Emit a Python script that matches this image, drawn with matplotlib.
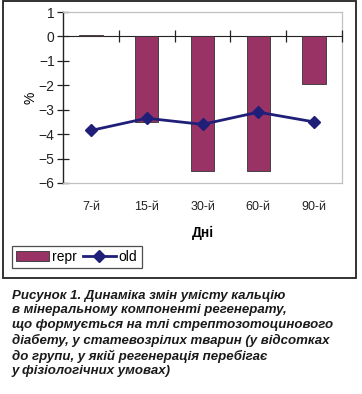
import matplotlib
matplotlib.use("Agg")
import matplotlib.pyplot as plt
from matplotlib.patches import Rectangle
import numpy as np

categories = ["7-й", "15-й", "30-й", "60-й", "90-й"]
repr_values = [0.04, -3.5, -5.5, -5.5, -1.93]
old_values = [-3.85, -3.35, -3.6, -3.1, -3.5]
y_ticks = [1, 0, -1, -2, -3, -4, -5, -6]

W, H = 362, 394
fig = plt.figure(figsize=(W / 100, H / 100), dpi=100)
plt.rcParams['font.family'] = ['Liberation Sans', 'DejaVu Sans']

def fx(px):
    return px / W

def fy(py):
    return 1 - py / H

# outer chart border
fig.patches.append(Rectangle((fx(3), fy(278)), fx(356) - fx(3), fy(1) - fy(278),
                             transform=fig.transFigure, fill=False,
                             edgecolor='#222222', linewidth=1.3))

ax = fig.add_axes([fx(63), fy(183), fx(342) - fx(63), fy(12) - fy(183)])
x = np.arange(len(categories))
bars = ax.bar(x, repr_values, width=0.42, color='#993366', edgecolor='#333333',
              linewidth=0.6, label='repr', zorder=4)
line, = ax.plot(x, old_values, color='#1f1f7a', linewidth=2, marker='D',
                markersize=6.5, label='old', zorder=5)

ax.set_xlim(-0.5, len(categories) - 0.5)
ax.set_ylim(-6, 1)
ax.set_yticks(y_ticks)
ax.set_yticklabels([("\u2212" + str(-v)) if v < 0 else str(v) for v in y_ticks],
                   fontsize=10)
ax.tick_params(axis='y', direction='inout', length=8, width=0.9, pad=2,
               colors='#222222')
ax.set_xticks(x)
ax.set_xticklabels(categories, fontsize=9, color='#222222')
ax.tick_params(axis='x', length=0, pad=13)

for s in ['top', 'right', 'bottom']:
    ax.spines[s].set_color('#c0c0c0')
    ax.spines[s].set_linewidth(0.9)
ax.spines['left'].set_color('#222222')
ax.spines['left'].set_linewidth(1.0)

sec = ax.secondary_xaxis(6 / 7)
sec.set_xticks(np.arange(len(categories)) + 0.5)
sec.set_xticklabels([])
sec.tick_params(direction='inout', length=8, width=0.9, colors='#222222')
sec.spines['bottom'].set_color('#222222')
sec.spines['top'].set_color('#222222')
sec.set_zorder(3)

ax.set_ylabel('%', fontsize=10, labelpad=1)
ax.set_xlabel('Дні', fontsize=10, fontweight='bold', labelpad=9)

leg = ax.legend(handles=[bars, line], labels=['repr', 'old'],
                loc='lower left', bbox_to_anchor=(fx(12), fy(268)),
                bbox_transform=fig.transFigure, ncol=2, frameon=True,
                fontsize=10, handlelength=2.4, handletextpad=0.2,
                columnspacing=0.4, borderpad=0.3, fancybox=False,
                borderaxespad=0)
leg.get_frame().set_edgecolor('#222222')
leg.get_frame().set_linewidth(0.9)

caption = ("Рисунок 1. Динаміка змін умісту кальцію\n"
           "в мінеральному компоненті регенерату,\n"
           "що формується на тлі стрептозотоцинового\n"
           "діабету, у статевозрілих тварин (у відсотках\n"
           "до групи, у якій регенерація перебігає\n"
           "у фізіологічних умовах)")
fig.text(fx(12), fy(290), caption, ha='left', va='top', fontsize=9.5,
         fontweight='bold', fontstyle='italic', linespacing=1.27,
         color='#1a1a1a')

fig.savefig('out.png', dpi=100)
